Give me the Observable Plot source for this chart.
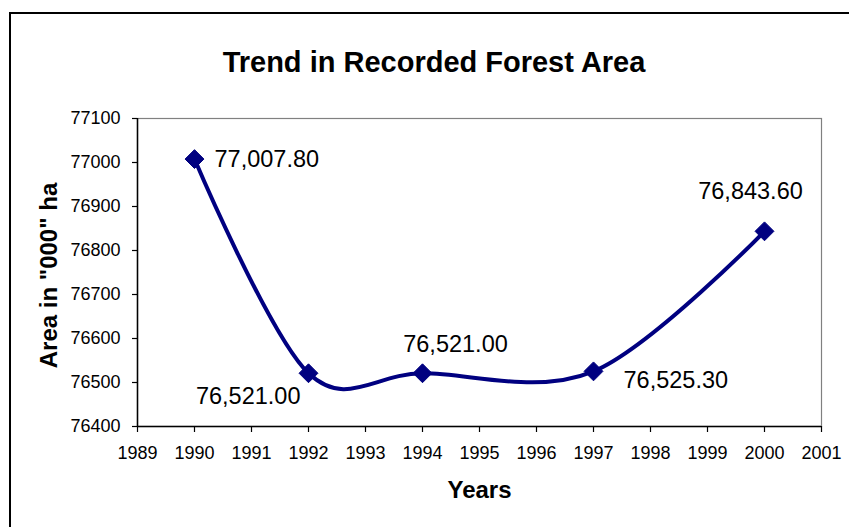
<!DOCTYPE html>
<html>
<head>
<meta charset="utf-8">
<script src="https://cdn.jsdelivr.net/npm/d3@7"></script>
<script src="https://cdn.jsdelivr.net/npm/@observablehq/plot@0.6"></script>
<style>
  html, body { margin: 0; padding: 0; background: #fff; }
  #chart { position: relative; width: 849px; height: 527px; overflow: hidden; }
  #edge {
    position: absolute; left: 9px; top: 12px; right: -10px; bottom: -10px;
    border-left: 2px solid #000; border-top: 2px solid #000; pointer-events: none;
  }
  #chart svg { position: absolute; left: 0; top: 0; }
</style>
</head>
<body>
<div id="chart"><div id="edge"></div></div>
<script>
// Recorded forest area, thousand hectares
const years = [1990, 1992, 1994, 1997, 2000];
const areas = [77007.8, 76521.0, 76521.0, 76525.3, 76843.6];
const xTicks = d3.range(1989, 2002);
const yTicks = d3.range(76400, 77101, 100);

const titleText = "Trend in Recorded Forest Area";
const xTitle = "Years";
const yTitle = "Area in \"000\" ha";

const rows = years.map((year, i) => ({year, area: areas[i]}));
const fmt = d3.format(",.2f");
const navy = "#000080";
const font = "Liberation Sans, Arial, sans-serif";

// one label mark per point, each offset to sit clear of the curve
const label = (i, opts) => Plot.text([rows[i]], {
  x: "year", y: "area", text: d => fmt(d.area),
  fontSize: 23.5, fill: "#000", ...opts
});

const chart = Plot.plot({
  width: 849,
  height: 527,
  marginLeft: 137,
  marginTop: 118,
  marginRight: 28,
  marginBottom: 101,
  style: {fontFamily: font, background: "transparent", overflow: "visible"},
  x: {domain: [1989, 2001]},
  y: {domain: [76400, 77100]},
  marks: [
    Plot.frame({stroke: "#808080", strokeWidth: 1.2}),
    Plot.ruleX([1989], {stroke: "#000", strokeWidth: 1.5}),
    Plot.ruleY([76400], {stroke: "#000", strokeWidth: 1.5}),
    Plot.axisX({ticks: xTicks, tickFormat: d3.format("d"), tickSize: 6, tickPadding: 14,
      fontSize: 18, label: null, stroke: "#000", strokeWidth: 1.2, fill: "#000"}),
    Plot.axisY({ticks: yTicks, tickFormat: d3.format("d"), tickSize: 5, tickPadding: 12,
      fontSize: 18, label: null, stroke: "#000", strokeWidth: 1.2, fill: "#000"}),
    Plot.line(rows, {x: "year", y: "area", curve: "cardinal", stroke: navy, strokeWidth: 4}),
    Plot.dot(rows, {x: "year", y: "area", symbol: "diamond2", r: 8.5, fill: navy, stroke: navy, strokeWidth: 1}),
    label(0, {textAnchor: "start", dx: 20, dy: 0}),
    label(1, {textAnchor: "end", dx: -8, dy: 23}),
    label(2, {textAnchor: "middle", dx: 33, dy: -29}),
    label(3, {textAnchor: "start", dx: 30, dy: 9}),
    label(4, {textAnchor: "middle", dx: -14, dy: -40}),
    Plot.text([titleText], {frameAnchor: "top", dx: -45.5, dy: -67.3,
      fontSize: 29, fontWeight: "bold", fill: "#000"}),
    Plot.text([xTitle], {frameAnchor: "bottom", dy: 71.3,
      fontSize: 24, fontWeight: "bold", fill: "#000"}),
    Plot.text([yTitle], {frameAnchor: "left", textAnchor: "middle", rotate: -90, dx: -87.7, dy: 3,
      fontSize: 24, fontWeight: "bold", fill: "#000"})
  ]
});

document.getElementById("chart").prepend(chart);
</script>
</body>
</html>
